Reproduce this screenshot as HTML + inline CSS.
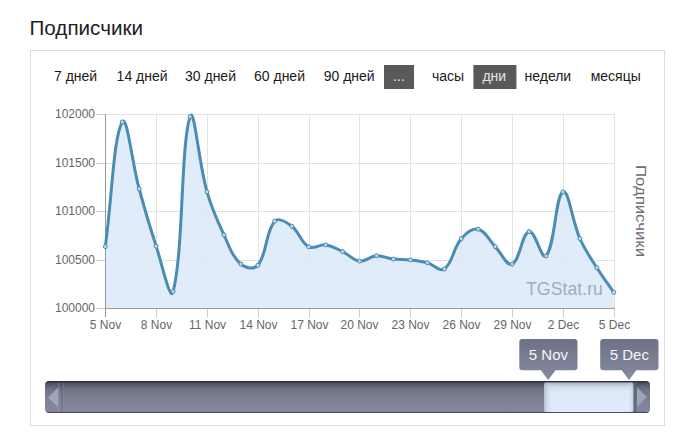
<!DOCTYPE html>
<html><head><meta charset="utf-8"><style>
html,body{margin:0;padding:0;background:#fff;width:684px;height:442px;overflow:hidden}
svg{display:block;font-family:"Liberation Sans", sans-serif}
</style></head><body>
<svg width="684" height="442" viewBox="0 0 684 442">
<defs>
<linearGradient id="sb" x1="0" y1="0" x2="0" y2="1">
<stop offset="0" stop-color="#20242d"/>
<stop offset="0.03" stop-color="#363a46"/>
<stop offset="0.08" stop-color="#4e5363"/>
<stop offset="0.25" stop-color="#6d7285"/>
<stop offset="0.45" stop-color="#777c8e"/>
<stop offset="0.75" stop-color="#818497"/>
<stop offset="0.87" stop-color="#8585a0"/>
<stop offset="0.92" stop-color="#8886a3"/>
<stop offset="0.955" stop-color="#7c7a95"/>
<stop offset="0.985" stop-color="#4a4a5c"/>
<stop offset="1" stop-color="#3a3a4a"/>
</linearGradient>
<linearGradient id="sel" x1="0" y1="0" x2="0" y2="1">
<stop offset="0" stop-color="#a9b2c0"/>
<stop offset="0.15" stop-color="#d2dcea"/>
<stop offset="0.3" stop-color="#dde8f8"/>
<stop offset="1" stop-color="#dfeafc"/>
</linearGradient>
<linearGradient id="selh" x1="0" y1="0" x2="1" y2="0">
<stop offset="0" stop-color="#9aa3b3" stop-opacity="0.6"/>
<stop offset="0.06" stop-color="#c8d2e2" stop-opacity="0.2"/>
<stop offset="0.12" stop-color="#dfeafc" stop-opacity="0"/>
<stop offset="0.93" stop-color="#dfeafc" stop-opacity="0"/>
<stop offset="1" stop-color="#a8b1c0" stop-opacity="0.5"/>
</linearGradient>
<linearGradient id="tt" gradientUnits="userSpaceOnUse" x1="0" y1="339" x2="0" y2="380">
<stop offset="0" stop-color="#6e7285"/>
<stop offset="0.75" stop-color="#80849a"/>
<stop offset="1" stop-color="#888ca2"/>
</linearGradient>
</defs>
<text x="29.5" y="34.8" font-size="20" fill="#1e1e1e" textLength="113.5" lengthAdjust="spacingAndGlyphs">Подписчики</text>
<rect x="30.5" y="50.5" width="634" height="375" fill="#fff" stroke="#dcdcdc"/>
<rect x="384" y="65" width="30" height="24" fill="#595959"/>
<text x="399" y="80.7" font-size="14" fill="#e8e8e8" text-anchor="middle">...</text>
<rect x="473.4" y="65" width="43" height="24" fill="#595959"/>
<text x="494.3" y="80.7" font-size="14" fill="#e4e4e4" text-anchor="middle">дни</text>
<g font-size="14" fill="#1a1a1a"><text x="54.0" y="80.7">7 дней</text><text x="116.6" y="80.7">14 дней</text><text x="185.0" y="80.7">30 дней</text><text x="254.0" y="80.7">60 дней</text><text x="323.7" y="80.7">90 дней</text><text x="432.0" y="80.7">часы</text><text x="524.5" y="80.7">недели</text><text x="590.7" y="80.7">месяцы</text></g>
<g stroke="#e2e2e2" stroke-width="1"><line x1="105" y1="114.5" x2="615" y2="114.5"/><line x1="105" y1="163.5" x2="615" y2="163.5"/><line x1="105" y1="211.5" x2="615" y2="211.5"/><line x1="105" y1="260.5" x2="615" y2="260.5"/><line x1="156.5" y1="114" x2="156.5" y2="308"/><line x1="207.5" y1="114" x2="207.5" y2="308"/><line x1="258.5" y1="114" x2="258.5" y2="308"/><line x1="309.5" y1="114" x2="309.5" y2="308"/><line x1="359.5" y1="114" x2="359.5" y2="308"/><line x1="410.5" y1="114" x2="410.5" y2="308"/><line x1="461.5" y1="114" x2="461.5" y2="308"/><line x1="512.5" y1="114" x2="512.5" y2="308"/><line x1="563.5" y1="114" x2="563.5" y2="308"/><line x1="614.5" y1="114" x2="614.5" y2="308"/></g>
<path d="M105.30,246.60 C112.08,196.76 113.50,136.87 122.25,122.00 C127.06,113.83 131.92,162.34 139.20,189.00 C145.48,211.98 148.68,223.49 156.15,246.10 C162.24,264.53 170.16,302.81 173.10,291.60 C183.72,251.05 180.62,144.46 190.05,116.70 C194.18,104.54 198.53,162.28 207.00,191.80 C212.09,209.56 216.11,218.17 223.95,234.90 C229.67,247.09 231.88,256.01 240.90,264.10 C245.44,268.17 254.26,269.84 257.85,265.30 C267.82,252.68 264.93,232.58 274.80,221.20 C278.49,216.94 286.36,222.11 291.75,226.20 C299.92,232.39 300.42,242.33 308.70,246.90 C313.98,249.81 319.09,243.99 325.65,244.90 C332.65,245.87 336.04,248.46 342.60,251.60 C349.60,254.94 352.47,260.24 359.55,261.10 C366.03,261.88 369.62,256.11 376.50,255.70 C383.18,255.31 386.61,258.25 393.45,259.10 C400.17,259.93 403.67,259.16 410.40,259.90 C417.23,260.64 420.73,261.02 427.35,262.80 C434.29,264.66 439.66,272.30 444.30,269.00 C453.22,262.66 452.56,248.91 461.25,238.70 C466.12,232.99 472.17,227.80 478.20,229.20 C485.73,230.96 488.38,239.63 495.15,246.60 C501.94,253.59 506.69,266.50 512.10,264.10 C520.25,260.50 521.56,233.39 529.05,231.60 C535.12,230.15 541.80,260.91 546.00,256.00 C555.36,245.03 555.20,195.88 562.95,191.90 C568.76,188.92 571.83,220.52 579.90,238.60 C585.39,250.88 589.65,256.39 596.85,267.80 C603.21,277.87 607.02,282.50 613.80,292.30 L613.80,308.5 L105.30,308.5 Z" fill="rgb(220,233,250)" fill-opacity="0.85"/>
<g stroke="#cfcfcf" stroke-width="1"><line x1="96" y1="114.5" x2="105" y2="114.5"/><line x1="96" y1="163.5" x2="105" y2="163.5"/><line x1="96" y1="211.5" x2="105" y2="211.5"/><line x1="96" y1="260.5" x2="105" y2="260.5"/><line x1="96" y1="308.5" x2="105" y2="308.5"/><line x1="105.5" y1="309" x2="105.5" y2="317.5"/><line x1="156.5" y1="309" x2="156.5" y2="317.5"/><line x1="207.5" y1="309" x2="207.5" y2="317.5"/><line x1="258.5" y1="309" x2="258.5" y2="317.5"/><line x1="309.5" y1="309" x2="309.5" y2="317.5"/><line x1="359.5" y1="309" x2="359.5" y2="317.5"/><line x1="410.5" y1="309" x2="410.5" y2="317.5"/><line x1="461.5" y1="309" x2="461.5" y2="317.5"/><line x1="512.5" y1="309" x2="512.5" y2="317.5"/><line x1="563.5" y1="309" x2="563.5" y2="317.5"/><line x1="614.5" y1="309" x2="614.5" y2="317.5"/></g>
<g stroke="#999" stroke-width="1">
<line x1="105.5" y1="114" x2="105.5" y2="317"/>
<line x1="105" y1="308.5" x2="615" y2="308.5"/>
</g>
<g font-size="12" fill="#666"><text x="95" y="118.1" text-anchor="end">102000</text><text x="95" y="167.1" text-anchor="end">101500</text><text x="95" y="215.1" text-anchor="end">101000</text><text x="95" y="264.1" text-anchor="end">100500</text><text x="95" y="312.1" text-anchor="end">100000</text><text x="105.5" y="328.6" text-anchor="middle">5 Nov</text><text x="156.5" y="328.6" text-anchor="middle">8 Nov</text><text x="207.5" y="328.6" text-anchor="middle">11 Nov</text><text x="258.5" y="328.6" text-anchor="middle">14 Nov</text><text x="309.5" y="328.6" text-anchor="middle">17 Nov</text><text x="359.5" y="328.6" text-anchor="middle">20 Nov</text><text x="410.5" y="328.6" text-anchor="middle">23 Nov</text><text x="461.5" y="328.6" text-anchor="middle">26 Nov</text><text x="512.5" y="328.6" text-anchor="middle">29 Nov</text><text x="563.5" y="328.6" text-anchor="middle">2 Dec</text><text x="614.5" y="328.6" text-anchor="middle">5 Dec</text></g>
<text x="526" y="294.6" font-size="19" fill="#a4acba" textLength="77" lengthAdjust="spacingAndGlyphs">TGStat.ru</text>
<path d="M105.30,246.60 C112.08,196.76 113.50,136.87 122.25,122.00 C127.06,113.83 131.92,162.34 139.20,189.00 C145.48,211.98 148.68,223.49 156.15,246.10 C162.24,264.53 170.16,302.81 173.10,291.60 C183.72,251.05 180.62,144.46 190.05,116.70 C194.18,104.54 198.53,162.28 207.00,191.80 C212.09,209.56 216.11,218.17 223.95,234.90 C229.67,247.09 231.88,256.01 240.90,264.10 C245.44,268.17 254.26,269.84 257.85,265.30 C267.82,252.68 264.93,232.58 274.80,221.20 C278.49,216.94 286.36,222.11 291.75,226.20 C299.92,232.39 300.42,242.33 308.70,246.90 C313.98,249.81 319.09,243.99 325.65,244.90 C332.65,245.87 336.04,248.46 342.60,251.60 C349.60,254.94 352.47,260.24 359.55,261.10 C366.03,261.88 369.62,256.11 376.50,255.70 C383.18,255.31 386.61,258.25 393.45,259.10 C400.17,259.93 403.67,259.16 410.40,259.90 C417.23,260.64 420.73,261.02 427.35,262.80 C434.29,264.66 439.66,272.30 444.30,269.00 C453.22,262.66 452.56,248.91 461.25,238.70 C466.12,232.99 472.17,227.80 478.20,229.20 C485.73,230.96 488.38,239.63 495.15,246.60 C501.94,253.59 506.69,266.50 512.10,264.10 C520.25,260.50 521.56,233.39 529.05,231.60 C535.12,230.15 541.80,260.91 546.00,256.00 C555.36,245.03 555.20,195.88 562.95,191.90 C568.76,188.92 571.83,220.52 579.90,238.60 C585.39,250.88 589.65,256.39 596.85,267.80 C603.21,277.87 607.02,282.50 613.80,292.30" fill="none" stroke="#4a8db2" stroke-width="3" stroke-linejoin="round"/>
<g fill="#bcdcf0" stroke="#4a8db2" stroke-width="1"><circle cx="105.30" cy="246.60" r="2"/><circle cx="122.25" cy="122.00" r="2"/><circle cx="139.20" cy="189.00" r="2"/><circle cx="156.15" cy="246.10" r="2"/><circle cx="173.10" cy="291.60" r="2"/><circle cx="190.05" cy="116.70" r="2"/><circle cx="207.00" cy="191.80" r="2"/><circle cx="223.95" cy="234.90" r="2"/><circle cx="240.90" cy="264.10" r="2"/><circle cx="257.85" cy="265.30" r="2"/><circle cx="274.80" cy="221.20" r="2"/><circle cx="291.75" cy="226.20" r="2"/><circle cx="308.70" cy="246.90" r="2"/><circle cx="325.65" cy="244.90" r="2"/><circle cx="342.60" cy="251.60" r="2"/><circle cx="359.55" cy="261.10" r="2"/><circle cx="376.50" cy="255.70" r="2"/><circle cx="393.45" cy="259.10" r="2"/><circle cx="410.40" cy="259.90" r="2"/><circle cx="427.35" cy="262.80" r="2"/><circle cx="444.30" cy="269.00" r="2"/><circle cx="461.25" cy="238.70" r="2"/><circle cx="478.20" cy="229.20" r="2"/><circle cx="495.15" cy="246.60" r="2"/><circle cx="512.10" cy="264.10" r="2"/><circle cx="529.05" cy="231.60" r="2"/><circle cx="546.00" cy="256.00" r="2"/><circle cx="562.95" cy="191.90" r="2"/><circle cx="579.90" cy="238.60" r="2"/><circle cx="596.85" cy="267.80" r="2"/><circle cx="613.80" cy="292.30" r="2"/></g>
<text transform="translate(636.3,211) rotate(90)" font-size="15.5" fill="#6c6c6c" text-anchor="middle" textLength="92" lengthAdjust="spacingAndGlyphs">Подписчики</text>
<rect x="45" y="381" width="605" height="32" rx="4" fill="url(#sb)"/>
<rect x="544" y="382.5" width="89.5" height="29.5" rx="2" fill="url(#sel)"/>
<rect x="544" y="382.5" width="89.5" height="29.5" rx="2" fill="url(#selh)"/>
<rect x="633.5" y="382" width="3" height="30" fill="#5d6174" opacity="0.7"/>
<rect x="58.5" y="383" width="1" height="28" fill="#8e93a6" opacity="0.6"/>
<rect x="61.5" y="383" width="1" height="28" fill="#5a5e70" opacity="0.5"/>
<rect x="63" y="383" width="1" height="28" fill="#8a8fa2" opacity="0.4"/>
<path d="M58.3,387.4 L58.3,407.5 L48,397.4 Z" fill="#a0a6b9"/>
<path d="M637,387.2 L637,407 L646.7,397.1 Z" fill="#a0a6b9"/>
<path d="M522.3,339 h52.2 a3,3 0 0 1 3,3 v25.2 a3,3 0 0 1 -3,3 h-19 l-7.3,9.7 l-7.3,-9.7 h-18.6 a3,3 0 0 1 -3,-3 v-25.2 a3,3 0 0 1 3,-3 Z" fill="url(#tt)"/>
<text x="548.4" y="360" font-size="15" fill="#f6f6f6" text-anchor="middle">5 Nov</text>
<path d="M603.2,339 h52.3 a3,3 0 0 1 3,3 v25.2 a3,3 0 0 1 -3,3 h-19.2 l-7.3,9.7 l-7.3,-9.7 h-18.5 a3,3 0 0 1 -3,-3 v-25.2 a3,3 0 0 1 3,-3 Z" fill="url(#tt)"/>
<text x="629.3" y="360" font-size="15" fill="#f6f6f6" text-anchor="middle">5 Dec</text>
</svg>
</body></html>
